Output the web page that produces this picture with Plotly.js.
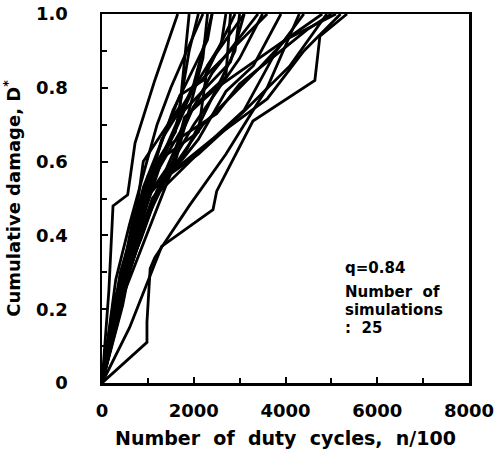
<!DOCTYPE html>
<html>
<head>
<meta charset="utf-8">
<script src="https://cdn.plot.ly/plotly-3.0.1.min.js"></script>
<style>html,body{margin:0;padding:0;background:#fff;}#chart{width:498px;height:452px;}</style>
</head>
<body>
<div id="chart"></div>
<script>
// Simulated damage paths: cycles (n/100) and cumulative damage D*
const cycles = [
  [0,150,240,560,720,1150,1650],
  [0,980,980,1050,1150,1900,2700,3600,4300],
  [0,600,1300,2420,2500,3290,4640,4750,5340],
  [0,300,700,900,1700,1900],
  [0,400,900,1200,2100,2300,3100],
  [0,250,800,1500,1800,2500,4800],
  [0,500,1000,1600,2200,2300],
  [0,350,950,1800,2900,3000],
  [0,200,700,1300,2100,2800,4100,4900],
  [0,450,1100,1900,2400,3600,4400,5200],
  [0,300,600,1200,1500,2200],
  [0,150,550,1000,1700,2400,3400],
  [0,400,800,1400,2000,2700,2800],
  [0,250,650,1300,1500,2600,2700],
  [0,600,1100,1500,2400,3100,3800,4400],
  [0,350,900,1700,2000,3600],
  [0,500,1200,2100,2700,3300,3900],
  [0,200,750,1550,2300,2400],
  [0,300,850,1250,2200,3400,4000,5100],
  [0,450,1000,1600,1900,2100],
  [0,100,500,1150,1800,2800,3100],
  [0,350,700,1400,2500,3000,4500,5000],
  [0,250,900,1700,2200,2900],
  [0,550,1300,2000,3000,3500],
  [0,150,450,950,1400,2000,2400]
];
const damage = [
  [0,0.25,0.48,0.51,0.65,0.82,1.0],
  [0,0.11,0.165,0.31,0.34,0.48,0.62,0.80,1.0],
  [0,0.15,0.37,0.47,0.52,0.71,0.82,0.94,1.0],
  [0,0.20,0.42,0.60,0.75,1.0],
  [0,0.22,0.45,0.60,0.68,0.86,1.0],
  [0,0.18,0.40,0.58,0.72,0.80,1.0],
  [0,0.25,0.41,0.60,0.88,1.0],
  [0,0.20,0.50,0.62,0.90,1.0],
  [0,0.14,0.38,0.55,0.62,0.70,0.86,1.0],
  [0,0.26,0.50,0.60,0.66,0.77,0.90,1.0],
  [0,0.28,0.43,0.70,0.80,1.0],
  [0,0.12,0.35,0.53,0.68,0.84,1.0],
  [0,0.30,0.47,0.58,0.75,0.83,1.0],
  [0,0.22,0.36,0.66,0.70,0.92,1.0],
  [0,0.30,0.50,0.57,0.66,0.74,0.90,1.0],
  [0,0.17,0.48,0.72,0.80,1.0],
  [0,0.27,0.52,0.66,0.79,0.86,1.0],
  [0,0.16,0.46,0.74,0.93,1.0],
  [0,0.23,0.39,0.53,0.70,0.85,0.93,1.0],
  [0,0.21,0.56,0.68,0.90,1.0],
  [0,0.10,0.32,0.56,0.74,0.87,1.0],
  [0,0.24,0.46,0.64,0.73,0.81,0.96,1.0],
  [0,0.19,0.53,0.78,0.82,1.0],
  [0,0.29,0.55,0.70,0.88,1.0],
  [0,0.08,0.30,0.47,0.64,0.81,1.0]
];
const xTickVals = [0,2000,4000,6000,8000];
const xTickText = ["0","2000","4000","6000","8000"];
const yTickVals = [0,0.2,0.4,0.6,0.8,1.0];
const yTickText = ["0","0.2","0.4","0.6","0.8","1.0"];
const annoLines = ["q=0.84","Number  of","simulations",":  25"];

const FONT = "DejaVu Sans";
const traces = cycles.map((xs,i)=>({
  x: xs, y: damage[i], type:'scatter', mode:'lines',
  line:{color:'#000', width:2.8}, showlegend:false, hoverinfo:'skip'
}));

const annoY = [268,292,310,328];
const layout = {
  width:498, height:452,
  margin:{l:102, r:29, t:14, b:69},
  paper_bgcolor:'#fff', plot_bgcolor:'#fff',
  font:{family:FONT, color:'#000', size:17, weight:700},
  showlegend:false,
  xaxis:{
    range:[0,8000], showgrid:false, zeroline:false,
    showline:true, mirror:true, linewidth:2.5, linecolor:'#000',
    ticks:'inside', ticklen:6, tickwidth:2, tickcolor:'#000',
    tickvals:xTickVals, ticktext:xTickText,
    minor:{dtick:1000, ticks:'inside', ticklen:5, tickwidth:2, tickcolor:'#000'},
    tickfont:{family:FONT, size:18, weight:700},
    ticklabelstandoff:10,
    title:{text:'Number  of  duty  cycles,  n/100', font:{family:FONT, size:19, weight:700}, standoff:12}
  },
  yaxis:{
    range:[0,1.0], showgrid:false, zeroline:false,
    showline:true, mirror:true, linewidth:2.5, linecolor:'#000',
    ticks:'inside', ticklen:6, tickwidth:2, tickcolor:'#000',
    tickvals:yTickVals, ticktext:yTickText,
    minor:{dtick:0.1, ticks:'inside', ticklen:5, tickwidth:2, tickcolor:'#000'},
    tickfont:{family:FONT, size:18, weight:700},
    ticklabelstandoff:28,
    title:{text:'Cumulative damage, D<sup>*</sup>', font:{family:FONT, size:18, weight:700}, standoff:12}
  },
  annotations: annoLines.map((t,i)=>({
    text:t, xref:'paper', yref:'paper', x:(343-102)/367, y:(383-annoY[i])/369,
    xanchor:'left', yanchor:'middle', showarrow:false,
    font:{family:FONT, size:15, weight:700}
  }))
};
Plotly.newPlot('chart', traces, layout, {displayModeBar:false, staticPlot:true});
</script>
</body>
</html>
